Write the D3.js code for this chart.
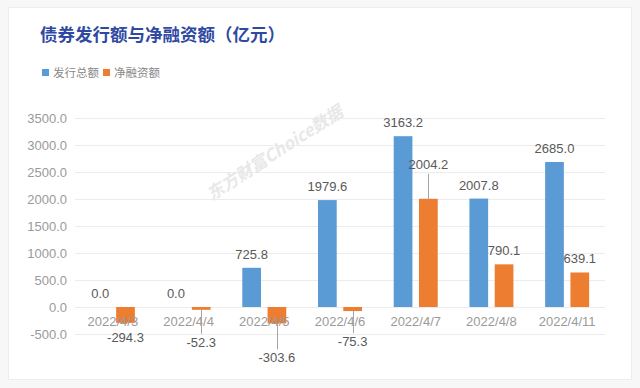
<!DOCTYPE html>
<html>
<head>
<meta charset="utf-8">
<script src="https://cdn.jsdelivr.net/npm/d3@7"></script>
<style>
  html, body { margin: 0; padding: 0; background: #f7f7f7; }
  svg { display: block; }
  text { font-family: "Liberation Sans", "Noto Sans CJK SC", sans-serif; }
</style>
</head>
<body>
<svg id="chart" width="640" height="388"></svg>
<script>
'use strict';
// bond issuance vs net financing, 100 million yuan

const dates = ['2022/4/3', '2022/4/4', '2022/4/5', '2022/4/6', '2022/4/7', '2022/4/8', '2022/4/11'];
const issued = [0.0, 0.0, 725.8, 1979.6, 3163.2, 2007.8, 2685.0];
const netFinancing = [-294.3, -52.3, -303.6, -75.3, 2004.2, 790.1, 639.1];
const yTicks = [-500, 0, 500, 1000, 1500, 2000, 2500, 3000, 3500];
const seriesNames = ['发行总额', '净融资额'];
const colors = ['#5b9bd5', '#ed7d31'];

// labels that were dragged away from the bar in the original, with a leader line
const labelNudge = {1: 18, 2: 20, 3: 16, 4: -21};

const svg = d3.select('#chart');

// card
svg.append('rect')
  .attr('x', 8.5).attr('y', 7.5)
  .attr('width', 623).attr('height', 372)
  .attr('fill', '#fff')
  .attr('stroke', '#ededed');

svg.append('text')
  .attr('x', 40).attr('y', 41)
  .attr('fill', '#2f49a3')
  .style('font-family', '"Noto Sans CJK SC", sans-serif')
  .style('font-size', '17.5px')
  .style('font-weight', 'bold')
  .text('债券发行额与净融资额（亿元）');

// legend
const legend = svg.append('g').attr('transform', 'translate(42,69)');
const legendX = [0, 61];
seriesNames.forEach((name, i) => {
  legend.append('rect')
    .attr('x', legendX[i]).attr('y', 0)
    .attr('width', 7).attr('height', 7)
    .attr('fill', colors[i]);
  legend.append('text')
    .attr('x', legendX[i] + 11).attr('y', 8)
    .attr('fill', '#888')
    .style('font-family', '"Noto Sans CJK SC", sans-serif')
    .style('font-size', '11.5px')
    .text(name);
});

const x = d3.scaleBand()
  .domain(dates)
  .range([75, 605]);

const sub = d3.scaleBand()
  .domain([0, 1])
  .range([0, 44])
  .paddingInner(0.26);

const y = d3.scaleLinear()
  .domain([-500, 3500])
  .range([334, 118]);

// gridlines + y labels
const grid = svg.append('g');
grid.selectAll('line')
  .data(yTicks)
  .enter()
  .append('line')
  .attr('x1', 75).attr('x2', 605)
  .attr('y1', d => Math.round(y(d)) + 0.5)
  .attr('y2', d => Math.round(y(d)) + 0.5)
  .attr('stroke', '#ececec');

grid.selectAll('text')
  .data(yTicks)
  .enter()
  .append('text')
  .attr('x', 67)
  .attr('y', d => y(d) + 4.5)
  .attr('text-anchor', 'end')
  .attr('fill', '#9a9a9a')
  .style('font-size', '13px')
  .text(d => d.toFixed(1));

// watermark
svg.append('text')
  .attr('transform', 'translate(278,158) rotate(-33)')
  .attr('text-anchor', 'middle')
  .attr('fill', '#e8e8e8')
  .style('font-family', '"Noto Sans CJK SC", sans-serif')
  .style('font-size', '17px')
  .style('font-weight', 'bold')
  .style('font-style', 'italic')
  .text('东方财富Choice数据');

const series = [issued, netFinancing];
const barsG = svg.append('g');
const xLabelsG = svg.append('g');
const labelsG = svg.append('g');

// x labels sit on top of the negative bars, like the original
xLabelsG.selectAll('text')
  .data(dates)
  .enter()
  .append('text')
  .attr('x', d => x(d) + x.bandwidth() / 2)
  .attr('y', 326)
  .attr('text-anchor', 'middle')
  .attr('fill', '#9a9a9a')
  .style('font-size', '13px')
  .text(d => d);

series.forEach((values, s) => {
  const rows = values.map((v, i) => ({date: dates[i], v: v, i: i}));
  const xPos = d => x(d.date) + x.bandwidth() / 2 - 22 + sub(s);

  barsG.selectAll('rect.s' + s)
    .data(rows)
    .enter()
    .append('rect')
    .attr('class', 's' + s)
    .attr('x', xPos)
    .attr('y', d => y(Math.max(0, d.v)))
    .attr('width', sub.bandwidth())
    .attr('height', d => Math.abs(y(d.v) - y(0)))
    .attr('fill', colors[s]);

  rows.forEach(d => {
    const cx = xPos(d) + sub.bandwidth() / 2;
    const nudge = s === 1 ? (labelNudge[d.i] || 0) : 0;
    let base = d.v >= 0 ? y(d.v) - 9 : y(d.v) + 19;
    base += nudge;
    if (nudge !== 0) {
      const edge = y(d.v);
      const end = d.v >= 0 ? base + 5 : base - 13;
      labelsG.append('line')
        .attr('x1', Math.round(cx) + 0.5).attr('x2', Math.round(cx) + 0.5)
        .attr('y1', edge).attr('y2', end)
        .attr('stroke', '#a5a5a5');
    }
    labelsG.append('text')
      .attr('x', cx)
      .attr('y', base)
      .attr('text-anchor', 'middle')
      .attr('fill', '#595959')
      .style('font-size', '13px')
      .text(d.v.toFixed(1));
  });
});
</script>
</body>
</html>
